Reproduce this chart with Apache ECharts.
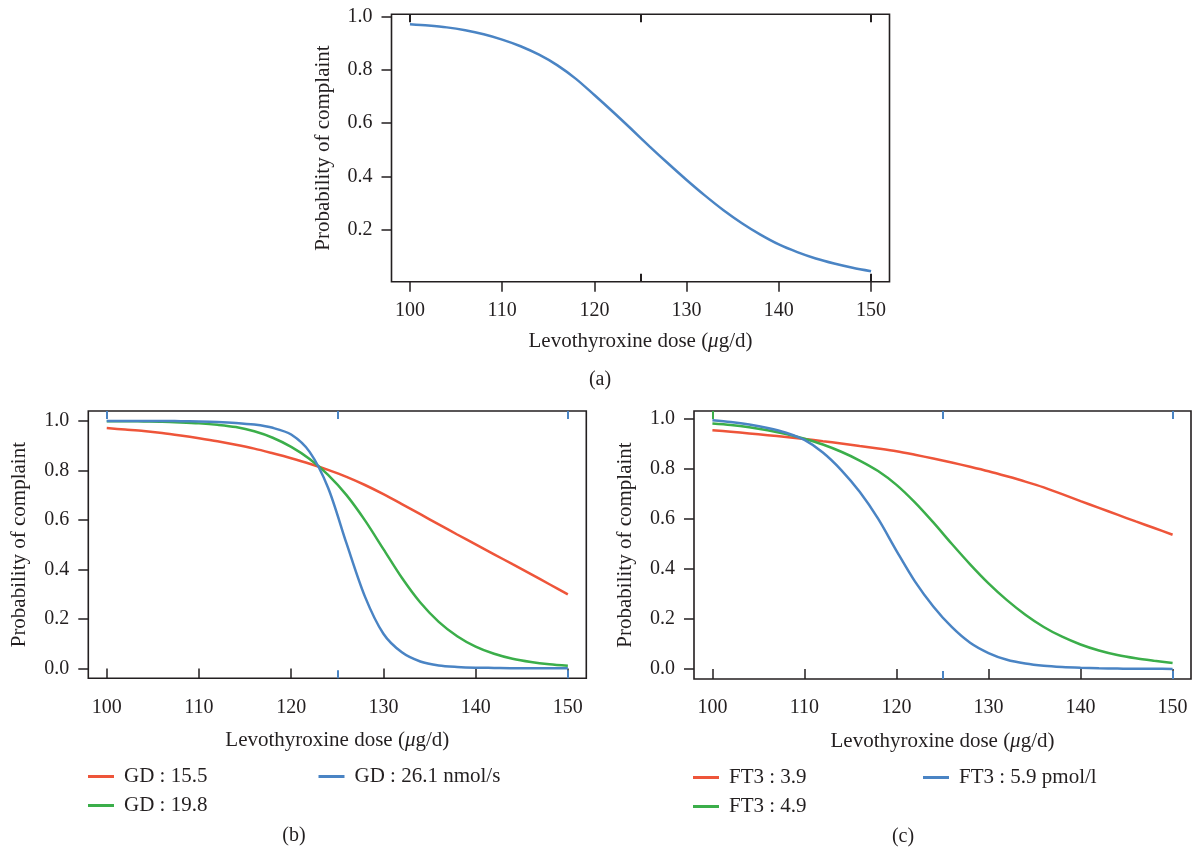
<!DOCTYPE html>
<html><head><meta charset="utf-8">
<script src="https://cdn.jsdelivr.net/npm/echarts@6/dist/echarts.min.js"></script>
<style>html,body{margin:0;padding:0;background:#fff}#c{width:1193px;height:850px}</style>
</head><body><div id="c"></div>
<script>
// ---- data ----
const dose = [100,102,104,106,108,110,112,114,116,118,120,122,124,126,128,130,132,134,136,138,140,142,144,146,148,150];
const probA = [0.973,0.968,0.961,0.950,0.935,0.915,0.890,0.858,0.818,0.767,0.706,0.643,0.578,0.512,0.448,0.386,0.327,0.272,0.223,0.180,0.143,0.114,0.090,0.071,0.055,0.042];
const gd155 = [0.971,0.965,0.959,0.951,0.941,0.930,0.918,0.904,0.888,0.869,0.849,0.827,0.802,0.774,0.741,0.704,0.664,0.623,0.582,0.541,0.501,0.461,0.421,0.381,0.340,0.299];
const gd198 = [0.999,0.999,0.998,0.997,0.994,0.990,0.984,0.975,0.958,0.932,0.895,0.846,0.782,0.700,0.598,0.482,0.366,0.266,0.188,0.130,0.088,0.059,0.039,0.026,0.017,0.011];
const gd261 = [1.000,1.000,1.000,1.000,0.999,0.998,0.996,0.992,0.985,0.972,0.945,0.875,0.730,0.505,0.290,0.140,0.065,0.028,0.012,0.006,0.003,0.002,0.001,0.001,0.0005,0.0003];
const ft39 = [0.953,0.947,0.940,0.933,0.926,0.918,0.909,0.900,0.890,0.880,0.869,0.855,0.840,0.824,0.807,0.789,0.769,0.748,0.725,0.698,0.670,0.643,0.616,0.589,0.563,0.536];
const ft49 = [0.980,0.974,0.965,0.953,0.938,0.919,0.896,0.867,0.832,0.790,0.735,0.665,0.585,0.500,0.418,0.342,0.275,0.217,0.168,0.129,0.098,0.074,0.056,0.043,0.033,0.024];
const ft59 = [0.993,0.986,0.976,0.962,0.943,0.914,0.864,0.794,0.707,0.600,0.472,0.350,0.250,0.168,0.105,0.064,0.037,0.022,0.013,0.008,0.005,0.003,0.002,0.001,0.001,0.0005];
const xTicks = [100,110,120,130,140,150];
const yTicksA = [0.2,0.4,0.6,0.8,1.0];
const yTicksBC = [0,0.2,0.4,0.6,0.8,1.0];
const innerTop = [100,125,150];
const innerBottom = [125,150];
const namesB = ['GD : 15.5','GD : 19.8','GD : 26.1 nmol/s'];
const namesC = ['FT3 : 3.9','FT3 : 4.9','FT3 : 5.9 pmol/l'];
const xTitle = '{n|Levothyroxine dose (}{i|\u03bc}{n|g/d)}';
const yTitle = 'Probability of complaint';

// ---- style ----
const INK = '#231f20';
const RED = '#ee553a', GREEN = '#3bae4a', BLUE = '#4a84c4';
const FONT = "'Liberation Serif','DejaVu Serif',serif";

const pairs = arr => dose.map((d,i)=>[d,arr[i]]);

const grids = [
  {left:391.5, top:14.3, width:498, height:267.4},
  {left:88.3, top:411, width:498, height:267.3},
  {left:694, top:411, width:497, height:268}
].map(g => Object.assign(g, {show:true, borderColor:INK, borderWidth:1.6, backgroundColor:'transparent', containLabel:false}));

function mainX(gi, gap){
  return {type:'value', gridIndex:gi, position:'bottom', min:98, max:152,
    axisLine:{show:false}, splitLine:{show:false},
    axisTick:{show:true, customValues:xTicks, length:10, lineStyle:{color:INK,width:1.5}},
    axisLabel:{customValues:xTicks, margin:19, color:INK, fontFamily:FONT, fontSize:20},
    name:xTitle, nameLocation:'middle', nameGap:gap,
    nameTextStyle:{color:INK, fontFamily:FONT, fontSize:21,
      rich:{n:{color:INK, fontFamily:FONT, fontSize:21}, i:{color:INK, fontFamily:FONT, fontSize:21, fontStyle:'italic'}}}};
}
function innerX(gi, pos, vals, color){
  return {type:'value', gridIndex:gi, position:pos, min:98, max:152,
    axisLine:{show:false}, splitLine:{show:false}, axisLabel:{show:false},
    axisTick:{show:true, inside:true, customValues:vals, length:8, lineStyle:{color:color,width:2}}};
}
function yAx(gi, min, max, ticks){
  return {type:'value', gridIndex:gi, min:min, max:max,
    axisLine:{show:false}, splitLine:{show:false},
    axisTick:{show:true, customValues:ticks, length:10, lineStyle:{color:INK,width:1.5}},
    axisLabel:{customValues:ticks, margin:19, color:INK, fontFamily:FONT, fontSize:20, formatter:v=>Number(v).toFixed(1)},
    name:yTitle, nameLocation:'middle', nameGap:58, nameRotate:90,
    nameTextStyle:{color:INK, fontFamily:FONT, fontSize:21}};
}

const xAxis = [
  mainX(0,49), mainX(1,52), mainX(2,52),
  innerX(0,'top',innerTop,INK), innerX(0,'bottom',innerBottom,INK),
  innerX(1,'top',innerTop,BLUE), innerX(1,'bottom',innerBottom,BLUE),
  innerX(2,'top',[100],GREEN), innerX(2,'top',[125,150],BLUE), innerX(2,'bottom',innerBottom,BLUE)
];
const yAxis = [
  yAx(0, 0.0027, 1.0103, yTicksA),
  yAx(1, -0.04, 1.04, yTicksBC),
  yAx(2, -0.0396, 1.0296, yTicksBC)
];

function line(name, data, color, xi, yi){
  return {type:'line', name:name, data:pairs(data), xAxisIndex:xi, yAxisIndex:yi,
    showSymbol:false, symbol:'none', smooth:0.3,
    lineStyle:{color:color, width:2.5}, itemStyle:{color:color}, silent:true};
}
const series = [
  line('a', probA, BLUE, 0, 0),
  line(namesB[0], gd155, RED, 1, 1),
  line(namesB[1], gd198, GREEN, 1, 1),
  line(namesB[2], gd261, BLUE, 1, 1),
  line(namesC[0], ft39, RED, 2, 2),
  line(namesC[1], ft49, GREEN, 2, 2),
  line(namesC[2], ft59, BLUE, 2, 2)
];

function leg(data, left, top){
  return {data:data, left:left, top:top, orient:'vertical', icon:'rect', itemWidth:26, itemHeight:3,
    itemGap:8, selectedMode:false, padding:0,
    textStyle:{color:INK, fontFamily:FONT, fontSize:21, padding:[0,0,0,5]}};
}
const legend = [
  leg([namesB[0], namesB[1]], 88, 766),
  leg([namesB[2]], 318.5, 766),
  leg([namesC[0], namesC[1]], 693, 767),
  leg([namesC[2]], 923, 767)
];

function lbl(t, x, y){
  return {type:'text', x:x, y:y, style:{text:t, fill:INK, font:"20px 'Liberation Serif','DejaVu Serif',serif", textAlign:'center', textVerticalAlign:'middle'}};
}

const chart = echarts.init(document.getElementById('c'), null, {renderer:'canvas'});
chart.setOption({
  animation:false, backgroundColor:'#fff',
  grid:grids, xAxis:xAxis, yAxis:yAxis, series:series, legend:legend,
  graphic:[lbl('(a)',600,380), lbl('(b)',294,836), lbl('(c)',903,837)]
});
</script></body></html>
